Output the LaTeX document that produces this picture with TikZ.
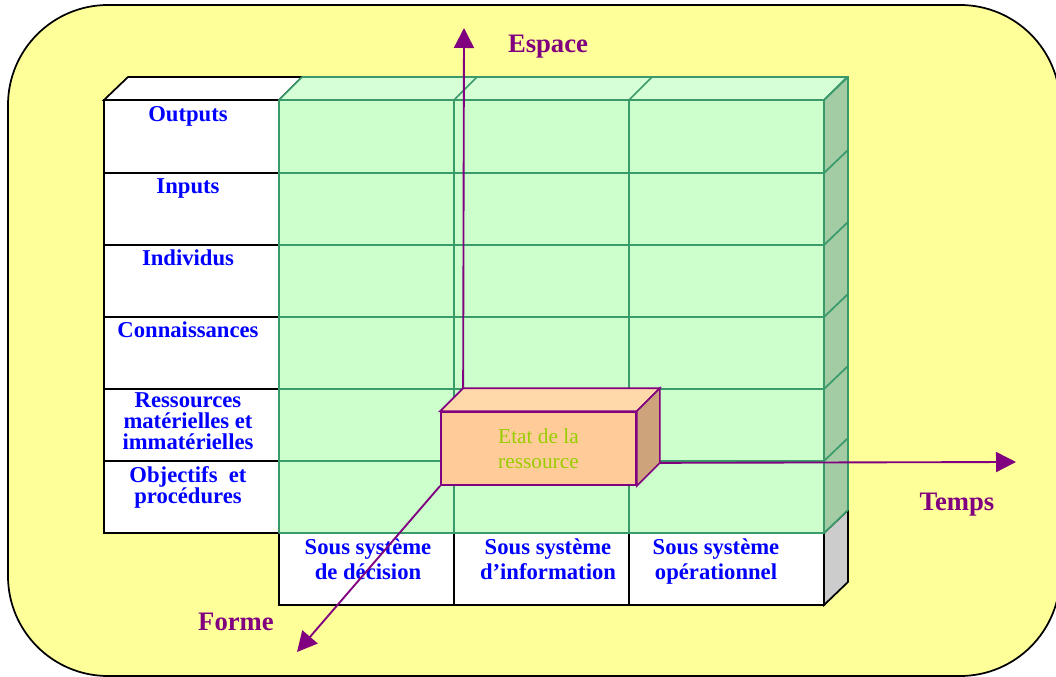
\documentclass[tikz,border=0pt]{standalone}
\usepackage{fontspec}
\setmainfont{Liberation Serif}
\usetikzlibrary{arrows.meta}

\definecolor{fond}{RGB}{255,255,153}
\definecolor{vert}{RGB}{204,255,204}
\definecolor{verthaut}{RGB}{214,255,214}
\definecolor{vertcote}{RGB}{164,204,164}
\definecolor{traitvert}{RGB}{58,154,106}
\definecolor{gris}{RGB}{204,204,204}
\definecolor{orangeface}{RGB}{255,204,153}
\definecolor{orangehaut}{RGB}{255,217,170}
\definecolor{orangecote}{RGB}{204,163,122}
\definecolor{violet}{RGB}{128,0,128}
\definecolor{vertjaune}{RGB}{153,204,0}

\tikzset{
  noir/.style={draw=black, line width=1.3pt},
  grille/.style={draw=traitvert, line width=1.3pt},
  bord/.style={draw=violet, line width=1.3pt},
  axe/.style={draw=violet, line width=1.4pt, -{Triangle[length=15pt,width=15pt]}},
  ligne/.style={text=blue, font=\bfseries\fontsize{17}{16}\selectfont, align=center, anchor=north, inner sep=0pt},
  colonne/.style={ligne, font=\bfseries\fontsize{17}{18.75}\selectfont},
  axetexte/.style={text=violet, font=\bfseries\fontsize{20}{24}\selectfont, anchor=base, inner sep=0pt}
}

\begin{document}
\begin{tikzpicture}[x=0.75pt,y=0.75pt,yscale=-1,xscale=1]
	\useasboundingbox (0,0) rectangle (1056,677);
	
	%Shape: Rounded Rect [fond]
	\draw [line width=1.3pt, fill=fond, rounded corners=75pt] (8,5) rectangle (1060,676);
	
	%Shape: left column (white, black lines)
	\draw [noir, fill=white] (104,100) -- (128,77) -- (302,77) -- (279,100) -- cycle;
	\draw [noir, fill=white] (104,100) rectangle (279,533);
	\foreach \y in {173,245,317,389,461}
		\draw [noir] (104,\y) -- (279,\y);
	
	%Shape: bottom row (white) and its grey side
	\draw [noir, fill=white] (279,533) -- (279,605) -- (824,605) -- (824,533);
	\draw [noir] (454,533) -- (454,605);
	\draw [noir] (629,533) -- (629,605);
	\draw [noir, fill=gris] (824,533) -- (848,510) -- (848,582) -- (824,605) -- cycle;
	
	%Shape: green block
	\fill [vert] (279,100) rectangle (824,533);
	\fill [verthaut] (279,100) -- (302,77) -- (848,77) -- (824,100) -- cycle;
	\fill [vertcote] (824,100) -- (848,77) -- (848,510) -- (824,533) -- cycle;
	\foreach \y in {100,173,245,317,389,461,533}
		\draw [grille] (279,\y) -- (824,\y) -- ++(24,-23);
	\foreach \x in {279,454,629,824}
		\draw [grille] (\x,533) -- (\x,100) -- ++(23,-23);
	\draw [grille] (302,77) -- (848,77) -- (848,510);
	
	%Texts: left column
	\node [ligne] (outputs) at (188,106) {Outputs};
	\node [ligne] (inputs) at (188,178) {Inputs};
	\node [ligne] (individus) at (188,250) {Individus};
	\node [ligne] (connaissances) at (188,322) {Connaissances};
	\node [ligne] (ressources) at (188,392) {Ressources\\matérielles et\\immatérielles};
	\node [ligne] (objectifs) at (188,466) {Objectifs~ et\\procédures};
	
	%Texts: bottom row
	\node [colonne] (decision) at (368,538) {Sous système\\de décision};
	\node [colonne] (information) at (548,538) {Sous système\\d’information};
	\node [colonne] (operationnel) at (716,538) {Sous système\\opérationnel};
	
	%Shape: Etat de la ressource (box)
	\node [bord, fill=orangeface, minimum width=146.25pt, minimum height=54.75pt, inner sep=0pt,
		text=vertjaune, align=center, font=\fontsize{16}{18.75}\selectfont] (etat) at (538.5,448.5) {Etat de la\\ressource};
	\path (etat.north west) ++(23,-23) coordinate (dosnw);
	\path (etat.north east) ++(23,-23) coordinate (dosne);
	\path (etat.south east) ++(23,-23) coordinate (dosse);
	\draw [bord, fill=orangehaut] (etat.north west) -- (dosnw) -- (dosne) -- (etat.north east) -- cycle;
	\draw [bord, fill=orangecote] (etat.north east) -- (dosne) -- (dosse) -- (etat.south east) -- cycle;
	
	%Arrows: axes
	\coordinate (espace) at (464,28);
	\coordinate (temps) at (1016,462);
	\coordinate (forme) at (297,652);
	\draw [axe] (dosnw) -- (espace);
	\draw [axe] (dosse) -- (temps);
	\draw [axe] (etat.south west) -- (forme);
	
	%Texts: axes
	\node [axetexte] (lblespace) at (548,53) {Espace};
	\node [axetexte] (lbltemps) at (957,510) {Temps};
	\node [axetexte] (lblforme) at (236,630) {Forme};
	
\end{tikzpicture}
\end{document}
